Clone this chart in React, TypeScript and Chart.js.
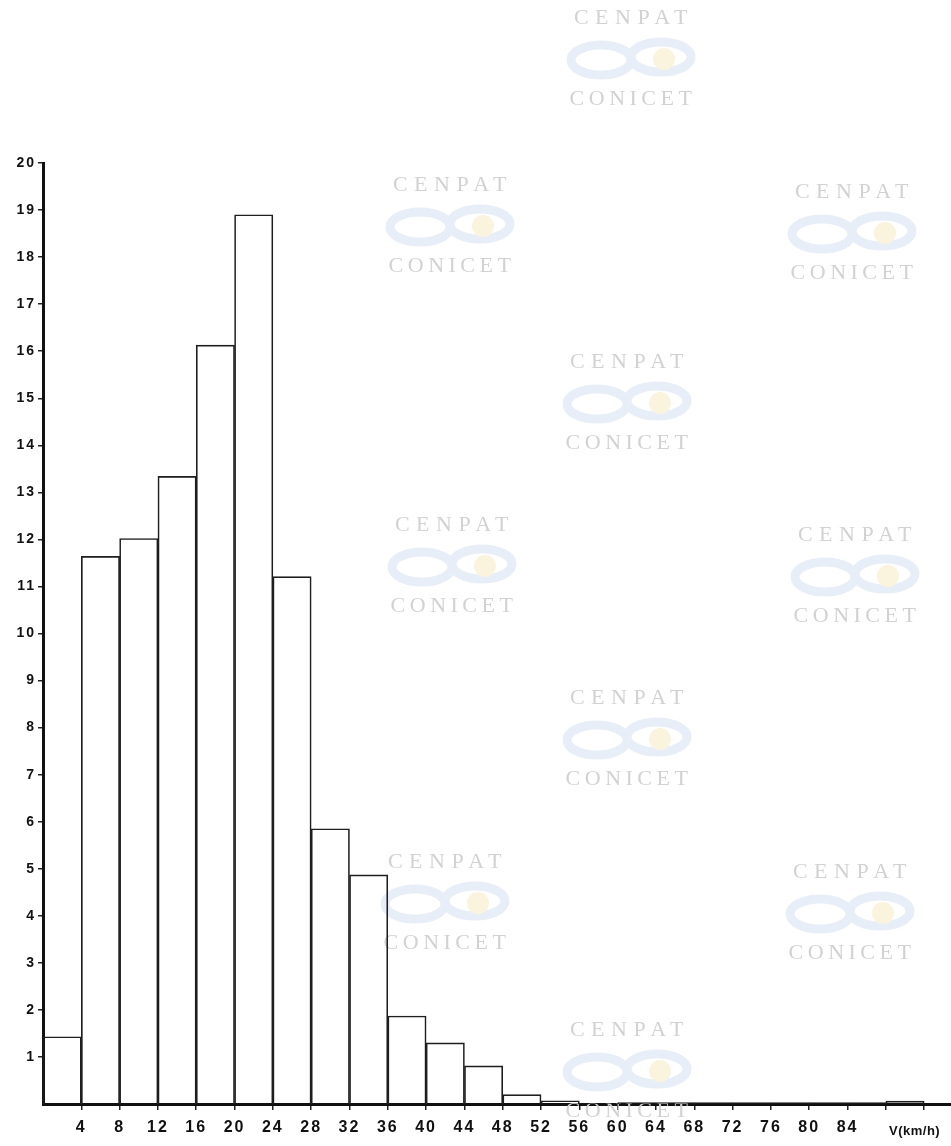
import React, { useEffect, useRef } from "react";
import { Chart, registerables } from "chart.js";

Chart.register(...registerables);

// Wind speed classes (km/h), lower bound of each 4 km/h bin
const binStarts = [0, 4, 8, 12, 16, 20, 24, 28, 32, 36, 40, 44, 48, 52, 56, 60, 64, 68, 72, 76, 80, 84, 88];
// Frequency (%) per bin
const frequencies = [1.43, 11.64, 12.02, 13.34, 16.13, 18.9, 11.21, 5.85, 4.87, 1.87, 1.3, 0.81, 0.2, 0.07, 0.01, 0.03, 0.03, 0.03, 0.03, 0.03, 0.03, 0.03, 0.06];
const binWidth = 4;
const xTickValues = [4, 8, 12, 16, 20, 24, 28, 32, 36, 40, 44, 48, 52, 56, 60, 64, 68, 72, 76, 80, 84, 88, 92];
const xTickLabels = ["4", "8", "12", "16", "20", "24", "28", "32", "36", "40", "44", "48", "52", "56", "60", "64", "68", "72", "76", "80", "84", "", ""];
const yTickValues = [1, 2, 3, 4, 5, 6, 7, 8, 9, 10, 11, 12, 13, 14, 15, 16, 17, 18, 19, 20];
const xAxisName = "V(km/h)";

// decorative scan watermarks (page coordinates of the "CENPAT" line centre)
const WATERMARKS: [number, number][] = [
  [631, 18], [450, 185], [852, 192], [627, 362], [452, 525], [855, 535],
  [627, 698], [445, 862], [850, 872], [627, 1030],
];

const watermarkPlugin = {
  id: "watermark",
  beforeDatasetsDraw(chart: any) {
    const ctx = chart.ctx as CanvasRenderingContext2D;
    ctx.save();
    for (const [cx, cy] of WATERMARKS) {
      // logo swoosh
      const ly = cy + 40;
      ctx.lineWidth = 9;
      ctx.strokeStyle = "#e8eef7";
      ctx.beginPath();
      ctx.ellipse(cx - 30, ly + 2, 30, 15, 0, 0, Math.PI * 2);
      ctx.stroke();
      ctx.beginPath();
      ctx.ellipse(cx + 30, ly - 1, 30, 15, 0, 0, Math.PI * 2);
      ctx.stroke();
      ctx.fillStyle = "#faf3de";
      ctx.beginPath();
      ctx.arc(cx + 33, ly + 1, 11, 0, Math.PI * 2);
      ctx.fill();
      // text
      ctx.fillStyle = "#d2d2d2";
      ctx.textAlign = "center";
      ctx.textBaseline = "middle";
      ctx.font = "22px 'Liberation Serif', serif";
      (ctx as any).letterSpacing = "6.5px";
      ctx.fillText("CENPAT", cx + 3, cy);
      (ctx as any).letterSpacing = "4.5px";
      ctx.fillText("CONICET", cx + 2, cy + 81);
    }
    (ctx as any).letterSpacing = "0px";
    ctx.restore();
  },
  beforeDraw(chart: any) {
    (chart.ctx as any).letterSpacing = "2px";
  },
  afterDraw(chart: any) {
    const ctx = chart.ctx as CanvasRenderingContext2D;
    const xs = chart.scales.x;
    ctx.save();
    (ctx as any).letterSpacing = "0.5px";
    ctx.fillStyle = "#111";
    ctx.font = "bold 13px 'Liberation Sans', Arial, sans-serif";
    ctx.textAlign = "center";
    ctx.textBaseline = "middle";
    ctx.fillText(xAxisName, xs.getPixelForValue(91), 1131);
    ctx.restore();
    (ctx as any).letterSpacing = "0px";
  },
};

export default function App() {
  const ref = useRef<HTMLCanvasElement>(null);

  useEffect(() => {
    if (!ref.current) return;
    const data = binStarts.map((s, i) => ({ x: s + binWidth / 2, y: frequencies[i] }));
    const chart = new Chart(ref.current, {
      type: "bar",
      data: {
        datasets: [
          {
            data,
            backgroundColor: "rgba(255,255,255,0)",
            borderColor: "#1e1e1e",
            borderWidth: 1,
            borderSkipped: "bottom",
            barPercentage: 1,
            categoryPercentage: 1,
          } as any,
        ],
      },
      options: {
        responsive: false,
        animation: false,
        devicePixelRatio: 1,
        layout: { padding: { top: 163, left: 0, right: 0, bottom: 0 } },
        plugins: { legend: { display: false }, tooltip: { enabled: false } },
        scales: {
          x: {
            type: "linear",
            offset: false,
            min: 0,
            max: 94.8,
            afterFit(scale: any) {
              scale.height = 42;
            },
            afterBuildTicks(scale: any) {
              scale.ticks = xTickValues.map((v) => ({ value: v }));
            },
            ticks: {
              autoSkip: false,
              maxRotation: 0,
              padding: 8,
              color: "#111",
              font: { family: "'Liberation Sans', Arial, sans-serif", size: 16, weight: "bold" },
              callback: (v: any) => {
                const i = xTickValues.indexOf(Number(v));
                return i >= 0 ? xTickLabels[i] : "";
              },
            },
            grid: {
              display: true,
              offset: false,
              drawOnChartArea: false,
              drawTicks: true,
              tickLength: 6,
              color: "#222",
              lineWidth: 1.5,
            },
            border: { display: true, color: "#111", width: 3 },
          },
          y: {
            type: "linear",
            min: 0,
            max: 20,
            afterFit(scale: any) {
              scale.width = 43;
            },
            afterBuildTicks(scale: any) {
              scale.ticks = yTickValues.map((v) => ({ value: v }));
            },
            ticks: {
              autoSkip: false,
              padding: 2,
              color: "#111",
              font: { family: "'Liberation Sans', Arial, sans-serif", size: 14, weight: "bold" },
              callback: (v: any) => String(v),
            },
            grid: {
              display: true,
              drawOnChartArea: false,
              drawTicks: true,
              tickLength: 5,
              color: "#222",
              lineWidth: 1.5,
            },
            border: { display: true, color: "#111", width: 3 },
          },
        },
      },
      plugins: [watermarkPlugin],
    });
    return () => chart.destroy();
  }, []);

  return (
    <div style={{ position: "absolute", left: 0, top: 0, width: 951, height: 1146, background: "#fff" }}>
      <canvas ref={ref} width={951} height={1146} style={{ display: "block" }} />
    </div>
  );
}
